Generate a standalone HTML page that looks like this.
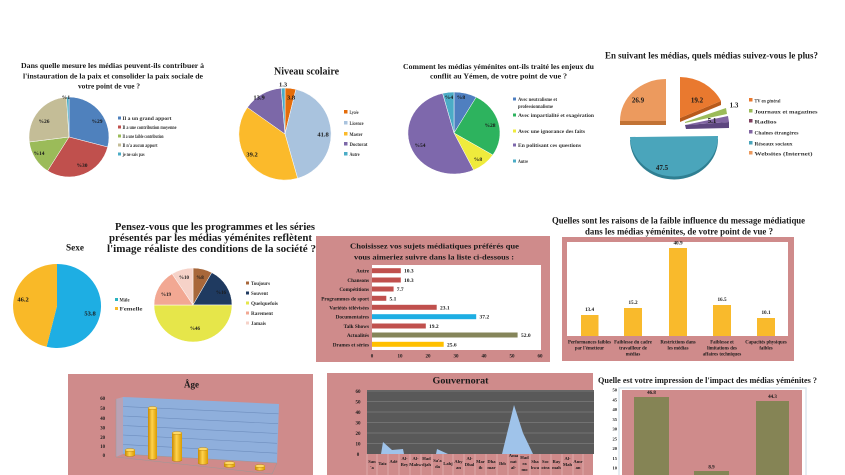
<!DOCTYPE html>
<html>
<head>
<meta charset="utf-8">
<style>
html,body{margin:0;padding:0;background:#fff;}
svg{display:block;}
text{font-family:"Liberation Serif",serif;font-weight:bold;fill:#1a1a1a;}
.lg{font-size:5.5px;fill:#333;}
</style>
</head>
<body>
<svg width="845" height="475" viewBox="0 0 845 475" xmlns="http://www.w3.org/2000/svg">
<defs>
<linearGradient id="cyl" x1="0" x2="1" y1="0" y2="0">
<stop offset="0" stop-color="#C98A00"/>
<stop offset="0.45" stop-color="#FFD34D"/>
<stop offset="1" stop-color="#D99A00"/>
</linearGradient>
</defs>
<rect width="845" height="475" fill="#fff"/>

<!-- ============ Chart 1 ============ -->
<text x="112.5" y="68" font-size="7.6" text-anchor="middle" textLength="183" lengthAdjust="spacingAndGlyphs">Dans quelle mesure les médias peuvent-ils contribuer à</text>
<text x="113" y="78.5" font-size="7.6" text-anchor="middle" textLength="180" lengthAdjust="spacingAndGlyphs">l'instauration de la paix et consolider la paix sociale de</text>
<text x="109" y="88.5" font-size="7.6" text-anchor="middle" textLength="62" lengthAdjust="spacingAndGlyphs">votre point de vue ?</text>
<g stroke="#fff" stroke-width="0.5">
<path d="M69,137 L69,97 A40,40 0 0 1 107.7,147 Z" fill="#4F81BD"/>
<path d="M69,137 L107.7,147 A40,40 0 0 1 47.6,170.8 Z" fill="#C0504D"/>
<path d="M69,137 L47.6,170.8 A40,40 0 0 1 29.3,142 Z" fill="#9BBB59"/>
<path d="M69,137 L29.3,142 A40,40 0 0 1 66.5,97.1 Z" fill="#C4BD97"/>
<path d="M69,137 L66.5,97.1 A40,40 0 0 1 69,97 Z" fill="#4BACC6"/>
</g>
<g font-size="5.5" text-anchor="middle">
<text x="97" y="123">%29</text>
<text x="82" y="167">%30</text>
<text x="39" y="155">%14</text>
<text x="44" y="123">%26</text>
<text x="66" y="99">%1</text>
</g>
<rect x="118" y="116.5" width="3" height="3" fill="#4F81BD"/>
<rect x="118" y="125.5" width="3" height="3" fill="#C0504D"/>
<rect x="118" y="134.5" width="3" height="3" fill="#9BBB59"/>
<rect x="118" y="143.5" width="3" height="3" fill="#C4BD97"/>
<rect x="118" y="152.5" width="3" height="3" fill="#4BACC6"/>
<text class="lg" x="122.5" y="120" textLength="49" lengthAdjust="spacingAndGlyphs">Il a un grand apport</text>
<text class="lg" x="122.5" y="129" textLength="54" lengthAdjust="spacingAndGlyphs">Il a une contribution moyenne</text>
<text class="lg" x="122.5" y="138" textLength="41" lengthAdjust="spacingAndGlyphs">Il a une faible contribution</text>
<text class="lg" x="122.5" y="147" textLength="35" lengthAdjust="spacingAndGlyphs">Il n'a aucun apport</text>
<text class="lg" x="122.5" y="156" textLength="22" lengthAdjust="spacingAndGlyphs">je ne sais pas</text>

<!-- ============ Chart 2 Niveau scolaire ============ -->
<text x="306.5" y="74.5" font-size="11" text-anchor="middle" textLength="65" lengthAdjust="spacingAndGlyphs">Niveau scolaire</text>
<g stroke="#fff" stroke-width="0.5">
<path d="M285,134 L285,88 A46,46 0 0 1 295.9,89.3 Z" fill="#E46C0A"/>
<path d="M285,134 L295.9,89.3 A46,46 0 0 1 297.6,178.3 Z" fill="#A9C3DE"/>
<path d="M285,134 L297.6,178.3 A46,46 0 0 1 247.4,107.4 Z" fill="#FBBA2B"/>
<path d="M285,134 L247.4,107.4 A46,46 0 0 1 281.2,88.2 Z" fill="#7C68A8"/>
<path d="M285,134 L281.2,88.2 A46,46 0 0 1 285,88 Z" fill="#4BACC6"/>
</g>
<g font-size="6.5" text-anchor="middle">
<text x="283" y="86.5">1.3</text>
<text x="291" y="99.5">3.8</text>
<text x="323" y="136.5">41.8</text>
<text x="252" y="156.5">39.2</text>
<text x="259" y="99.5">13.9</text>
</g>
<rect x="344" y="110" width="3.5" height="3.5" fill="#E46C0A"/>
<rect x="344" y="121" width="3.5" height="3.5" fill="#A9C3DE"/>
<rect x="344" y="132" width="3.5" height="3.5" fill="#FBBA2B"/>
<rect x="344" y="142" width="3.5" height="3.5" fill="#7C68A8"/>
<rect x="344" y="152" width="3.5" height="3.5" fill="#4BACC6"/>
<g class="lg" font-size="6.3">
<text class="lg" x="349.5" y="114" font-size="6.3" textLength="9" lengthAdjust="spacingAndGlyphs">Lycée</text>
<text class="lg" x="349.5" y="125" font-size="6.3" textLength="14" lengthAdjust="spacingAndGlyphs">Licence</text>
<text class="lg" x="349.5" y="136" font-size="6.3" textLength="13" lengthAdjust="spacingAndGlyphs">Master</text>
<text class="lg" x="349.5" y="146" font-size="6.3" textLength="18" lengthAdjust="spacingAndGlyphs">Doctorat</text>
<text class="lg" x="349.5" y="156" font-size="6.3" textLength="10" lengthAdjust="spacingAndGlyphs">Autre</text>
</g>

<!-- ============ Chart 3 Comment ============ -->
<text x="498.5" y="69" font-size="7.6" text-anchor="middle" textLength="191" lengthAdjust="spacingAndGlyphs">Comment les médias yéménites ont-ils traité les enjeux du</text>
<text x="498.5" y="78.5" font-size="7.6" text-anchor="middle" textLength="137" lengthAdjust="spacingAndGlyphs">conflit au Yémen, de votre point de vue ?</text>
<g stroke="#fff" stroke-width="0.5">
<path d="M454,133 L454,92 A46,41 0 0 1 476.2,97.1 Z" fill="#4F7FC0"/>
<path d="M454,133 L476.2,97.1 A46,41 0 0 1 492.8,155 Z" fill="#2DB35E"/>
<path d="M454,133 L492.8,155 A46,41 0 0 1 473.6,170.1 Z" fill="#EFEB3C"/>
<path d="M454,133 L473.6,170.1 A46,41 0 1 1 442.6,93.3 Z" fill="#7E68AC"/>
<path d="M454,133 L442.6,93.3 A46,41 0 0 1 454,92 Z" fill="#4BACC6"/>
</g>
<g font-size="5.5" text-anchor="middle">
<text x="461" y="99">%8</text>
<text x="449" y="99">%4</text>
<text x="490" y="127">%28</text>
<text x="478" y="161">%8</text>
<text x="420" y="147">%54</text>
</g>
<rect x="513" y="97.5" width="3" height="3" fill="#4F7FC0"/>
<rect x="513" y="113.5" width="3" height="3" fill="#2DB35E"/>
<rect x="513" y="129.5" width="3" height="3" fill="#EFEB3C"/>
<rect x="513" y="143.5" width="3" height="3" fill="#7E68AC"/>
<rect x="513" y="159.5" width="3" height="3" fill="#4BACC6"/>
<text class="lg" x="518" y="101" textLength="39" lengthAdjust="spacingAndGlyphs">Avec neutralisme et</text>
<text class="lg" x="518" y="108" textLength="35" lengthAdjust="spacingAndGlyphs">professionnalisme</text>
<text class="lg" x="518" y="117" textLength="76" lengthAdjust="spacingAndGlyphs">Avec impartialité et exagération</text>
<text class="lg" x="518" y="133" textLength="67" lengthAdjust="spacingAndGlyphs">Avec une ignorance des faits</text>
<text class="lg" x="518" y="147" textLength="63" lengthAdjust="spacingAndGlyphs">En politisant ces questions</text>
<text class="lg" x="518" y="163" textLength="10" lengthAdjust="spacingAndGlyphs">Autre</text>

<!-- ============ Chart 4 En suivant ============ -->
<text x="711.5" y="58.5" font-size="9.2" text-anchor="middle" textLength="213" lengthAdjust="spacingAndGlyphs">En suivant les médias, quels médias suivez-vous le plus?</text>
<!-- Websites -->
<path d="M620,121 L666,121 L666,125 L620,125 Z" fill="#C27335"/>
<path d="M666,121 L666,79 A46,42 0 0 0 620,121 Z" fill="#EC9A5E"/>
<!-- TV -->
<path d="M680,118 L721,101 L721,105 L680,122 Z" fill="#B85A1C"/>
<path d="M680,118 L680,77 A46,42 0 0 1 721,101 Z" fill="#E9792F"/>
<!-- Journaux -->
<path d="M685,122 L726,108 L727,114 L685,123 Z" fill="#9BBB59"/>
<!-- Purple -->
<path d="M685,125 L729,122 L729,128 L686,129 Z" fill="#5D467F"/>
<path d="M685,125 L728,116 L729,122 Z" fill="#8064A2"/>
<!-- Teal -->
<path d="M630,140 L718,139 A44,40 0 0 1 630,140 Z" fill="#2F7F92"/>
<path d="M630,137 L718,136 A44,40 0 0 1 630,137 Z" fill="#4AA5BB"/>
<g font-size="7" text-anchor="middle">
<text x="638" y="102.5">26.9</text>
<text x="697" y="102.5">19.2</text>
<text x="734" y="107.5">1.3</text>
<text x="712" y="123">5.1</text>
<text x="662" y="170">47.5</text>
</g>
<rect x="749" y="98" width="3.5" height="3.5" fill="#E9792F"/>
<rect x="749" y="109" width="3.5" height="3.5" fill="#9BBB59"/>
<rect x="749" y="119" width="3.5" height="3.5" fill="#7F3F5F"/>
<rect x="749" y="130" width="3.5" height="3.5" fill="#8064A2"/>
<rect x="749" y="141" width="3.5" height="3.5" fill="#4AA5BB"/>
<rect x="749" y="151" width="3.5" height="3.5" fill="#EC9A5E"/>
<text class="lg" x="754.5" y="102.3" font-size="6.4" textLength="26" lengthAdjust="spacingAndGlyphs">TV en général</text>
<text class="lg" x="754.5" y="113.3" font-size="6.4" textLength="63" lengthAdjust="spacingAndGlyphs">Journaux et magazines</text>
<text class="lg" x="754.5" y="123.3" font-size="6.4" textLength="22" lengthAdjust="spacingAndGlyphs">Radios</text>
<text class="lg" x="754.5" y="134.3" font-size="6.4" textLength="44" lengthAdjust="spacingAndGlyphs">Chaînes étrangères</text>
<text class="lg" x="754.5" y="145.3" font-size="6.4" textLength="38" lengthAdjust="spacingAndGlyphs">Réseaux sociaux</text>
<text class="lg" x="754.5" y="155.3" font-size="6.4" textLength="58" lengthAdjust="spacingAndGlyphs">Websites (Internet)</text>

<!-- ============ Chart 5 Sexe ============ -->
<text x="75" y="250.5" font-size="9.5" text-anchor="middle" textLength="18" lengthAdjust="spacingAndGlyphs">Sexe</text>
<path d="M57,306 L57,264 A44,42 0 1 1 46.6,346.8 Z" fill="#1EAEE3"/>
<path d="M57,306 L46.6,346.8 A44,42 0 0 1 57,264 Z" fill="#F9B928"/>
<text x="90" y="315.5" font-size="6.5" text-anchor="middle">53.8</text>
<text x="23" y="301.5" font-size="6.5" text-anchor="middle">46.2</text>
<rect x="115" y="298" width="3" height="3" fill="#2BB3C0"/>
<rect x="115" y="307" width="3" height="3" fill="#F9B928"/>
<text class="lg" x="119.5" y="301.5" font-size="6" textLength="10" lengthAdjust="spacingAndGlyphs">Mâle</text>
<text class="lg" x="119.5" y="310.5" font-size="6" textLength="23" lengthAdjust="spacingAndGlyphs">Femelle</text>

<!-- ============ Chart 6 Pensez-vous ============ -->
<text x="215" y="230" font-size="11" text-anchor="middle" textLength="200" lengthAdjust="spacingAndGlyphs">Pensez-vous que les programmes et les séries</text>
<text x="210.5" y="241" font-size="11" text-anchor="middle" textLength="203" lengthAdjust="spacingAndGlyphs">présentés par les médias yéménites reflètent</text>
<text x="211.5" y="252" font-size="11" text-anchor="middle" textLength="209" lengthAdjust="spacingAndGlyphs">l'image réaliste des conditions de la société ?</text>
<g stroke="#fff" stroke-width="0.5">
<path d="M193,305 L193,268 A39,37 0 0 1 211.8,272.6 Z" fill="#A8673A"/>
<path d="M193,305 L211.8,272.6 A39,37 0 0 1 232,305 Z" fill="#1F3A60"/>
<path d="M193,305 L232,305 A39,37 0 0 1 154,305 Z" fill="#E6E64A"/>
<path d="M193,305 L154,305 A39,37 0 0 1 172.1,273.8 Z" fill="#F2A893"/>
<path d="M193,305 L172.1,273.8 A39,37 0 0 1 193,268 Z" fill="#F6D2C8"/>
</g>
<g font-size="5" text-anchor="middle">
<text x="200" y="279">%8</text>
<text x="221" y="294" fill="#ddd">%16</text>
<text x="195" y="330">%46</text>
<text x="166" y="296">%19</text>
<text x="184" y="279">%10</text>
</g>
<rect x="246" y="281.5" width="3" height="3" fill="#A8673A"/>
<rect x="246" y="291.5" width="3" height="3" fill="#1F3A60"/>
<rect x="246" y="301.5" width="3" height="3" fill="#E6E64A"/>
<rect x="246" y="311.5" width="3" height="3" fill="#F2A893"/>
<rect x="246" y="321.5" width="3" height="3" fill="#F6D2C8"/>
<text class="lg" x="251" y="285" font-size="5" textLength="19" lengthAdjust="spacingAndGlyphs">Toujours</text>
<text class="lg" x="251" y="295" font-size="5" textLength="17" lengthAdjust="spacingAndGlyphs">Souvent</text>
<text class="lg" x="251" y="305" font-size="5" textLength="27" lengthAdjust="spacingAndGlyphs">Quelquefois</text>
<text class="lg" x="251" y="315" font-size="5" textLength="22" lengthAdjust="spacingAndGlyphs">Rarement</text>
<text class="lg" x="251" y="325" font-size="5" textLength="15" lengthAdjust="spacingAndGlyphs">Jamais</text>

<!-- ============ Chart 7 Choisissez ============ -->
<rect x="316" y="236" width="234" height="126" fill="#CF8B8B"/>
<rect x="372" y="265" width="169" height="85" fill="#fff"/>
<text x="434.5" y="248.5" font-size="7.8" text-anchor="middle" textLength="169" lengthAdjust="spacingAndGlyphs">Choisissez vos sujets médiatiques préférés que</text>
<text x="434" y="259.5" font-size="7.8" text-anchor="middle" textLength="160" lengthAdjust="spacingAndGlyphs">vous aimeriez suivre dans la liste ci-dessous :</text>
<g fill="#C0504D">
<rect x="372" y="268.2" width="28.8" height="5"/>
<rect x="372" y="277.5" width="28.8" height="5"/>
<rect x="372" y="286.5" width="21.6" height="5"/>
<rect x="372" y="295.8" width="14.3" height="5"/>
<rect x="372" y="304.8" width="64.7" height="5"/>
<rect x="372" y="323.5" width="53.8" height="5"/>
</g>
<rect x="372" y="314.2" width="104.2" height="5" fill="#1EAEE3"/>
<rect x="372" y="332.5" width="145.6" height="5" fill="#85855A"/>
<rect x="372" y="341.8" width="71.7" height="5" fill="#FFC000"/>
<g font-size="5.5">
<text x="404" y="272.7">10.3</text>
<text x="404" y="282">10.3</text>
<text x="396.8" y="291">7.7</text>
<text x="389.5" y="300.3">5.1</text>
<text x="440" y="309.3">23.1</text>
<text x="479.5" y="318.7">37.2</text>
<text x="429" y="328">19.2</text>
<text x="521" y="337">52.0</text>
<text x="447" y="346.3">25.6</text>
</g>
<g font-size="5.2" text-anchor="end" fill="#2a1010">
<text x="369" y="272.7">Autre</text>
<text x="369" y="282">Chansons</text>
<text x="369" y="291">Compétitions</text>
<text x="369" y="300.3">Programmes de sport</text>
<text x="369" y="309.3">Variétés télévisées</text>
<text x="369" y="318.7">Documentaires</text>
<text x="369" y="328">Talk Shows</text>
<text x="369" y="337">Actualités</text>
<text x="369" y="346.3">Drames et séries</text>
</g>
<g font-size="5" text-anchor="middle">
<text x="372" y="357.5">0</text>
<text x="400" y="357.5">10</text>
<text x="428" y="357.5">20</text>
<text x="456" y="357.5">30</text>
<text x="484" y="357.5">40</text>
<text x="512" y="357.5">50</text>
<text x="540" y="357.5">60</text>
</g>

<!-- ============ Chart 8 Quelles sont ============ -->
<text x="678.5" y="223.5" font-size="9" text-anchor="middle" textLength="253" lengthAdjust="spacingAndGlyphs">Quelles sont les raisons de la faible influence du message médiatique</text>
<text x="679" y="234.5" font-size="9" text-anchor="middle" textLength="188" lengthAdjust="spacingAndGlyphs">dans les médias yéménites, de votre point de vue ?</text>
<rect x="562" y="237" width="232" height="124" fill="#CF8B8B"/>
<rect x="567" y="242" width="221" height="94" fill="#fff"/>
<g fill="#F9BA2C">
<rect x="581" y="315" width="17.5" height="21"/>
<rect x="624" y="308" width="18" height="28"/>
<rect x="669" y="248" width="18" height="88"/>
<rect x="713" y="305" width="18" height="31"/>
<rect x="757" y="318" width="18" height="18"/>
</g>
<g font-size="5.2" text-anchor="middle" fill="#1F2A44">
<text x="589.5" y="311" fill="#1F2A44">13.4</text>
<text x="633" y="304" fill="#1F2A44">15.2</text>
<text x="678" y="244.5" fill="#1F2A44">40.9</text>
<text x="722" y="301" fill="#1F2A44">16.5</text>
<text x="766" y="314" fill="#1F2A44">10.1</text>
</g>
<g font-size="4.8" text-anchor="middle" fill="#2a0f0f">
<text x="589.5" y="343.5">Performances faibles</text>
<text x="589.5" y="349.5">par l'émetteur</text>
<text x="633" y="343.5">Faiblesse du cadre</text>
<text x="633" y="349.5">travailleur de</text>
<text x="633" y="355.5">médias</text>
<text x="678" y="343.5">Restrictions dans</text>
<text x="678" y="349.5">les médias</text>
<text x="722" y="343.5">Faiblesse et</text>
<text x="722" y="349.5">limitations des</text>
<text x="722" y="355.5">affaires techniques</text>
<text x="766" y="343.5">Capacités physiques</text>
<text x="766" y="349.5">faibles</text>
</g>

<!-- ============ Chart 9 Age ============ -->
<rect x="68" y="374" width="245" height="101" fill="#CF8B8B"/>
<text x="191.5" y="387.5" font-size="9" text-anchor="middle">Âge</text>
<polygon points="123,397 279,404 277,463 123,454" fill="#8FAFDC"/>
<polygon points="116,399 123,397 123,454 116,457" fill="#B9A2B4"/>
<g stroke="#6E8EBE" stroke-width="0.6">
<line x1="123" y1="444.5" x2="277" y2="453.2"/>
<line x1="123" y1="435" x2="277" y2="443.3"/>
<line x1="123" y1="425.5" x2="277.5" y2="433.5"/>
<line x1="123" y1="416" x2="278" y2="423.7"/>
<line x1="123" y1="406.5" x2="278.5" y2="413.8"/>
</g>
<g stroke="#999" stroke-width="0.5" fill="none">
<line x1="116" y1="399" x2="116" y2="457"/>
<line x1="116" y1="457" x2="272" y2="474"/>
<line x1="123" y1="454" x2="277" y2="463"/>
<line x1="277" y1="463" x2="272" y2="474"/>
</g>
<g font-size="4.8" text-anchor="end">
<text x="105" y="400">60</text>
<text x="105" y="410">50</text>
<text x="105" y="420">40</text>
<text x="105" y="429.5">30</text>
<text x="105" y="439">20</text>
<text x="105" y="448">10</text>
<text x="105" y="457">0</text>
</g>
<g stroke="#B07800" stroke-width="0.4">
<ellipse cx="130" cy="455" rx="5" ry="1.5" fill="url(#cyl)"/>
<rect x="125" y="450" width="10" height="5" fill="url(#cyl)" stroke="none"/>
<ellipse cx="130" cy="450" rx="5" ry="1.5" fill="#FFD966"/>
<ellipse cx="152.5" cy="458" rx="4.5" ry="1.5" fill="url(#cyl)"/>
<rect x="148" y="408" width="9" height="50" fill="url(#cyl)" stroke="none"/>
<ellipse cx="152.5" cy="408" rx="4.5" ry="1.5" fill="#FFD966"/>
<ellipse cx="177" cy="460" rx="5" ry="1.5" fill="url(#cyl)"/>
<rect x="172" y="433" width="10" height="27" fill="url(#cyl)" stroke="none"/>
<ellipse cx="177" cy="433" rx="5" ry="1.5" fill="#FFD966"/>
<ellipse cx="203" cy="463" rx="5" ry="1.5" fill="url(#cyl)"/>
<rect x="198" y="449" width="10" height="14" fill="url(#cyl)" stroke="none"/>
<ellipse cx="203" cy="449" rx="5" ry="1.5" fill="#FFD966"/>
<ellipse cx="229.5" cy="466" rx="5.5" ry="1.5" fill="url(#cyl)"/>
<rect x="224" y="463" width="11" height="3" fill="url(#cyl)" stroke="none"/>
<ellipse cx="229.5" cy="463" rx="5.5" ry="1.5" fill="#FFD966"/>
<ellipse cx="260" cy="469" rx="5" ry="1.5" fill="url(#cyl)"/>
<rect x="255" y="466" width="10" height="3" fill="url(#cyl)" stroke="none"/>
<ellipse cx="260" cy="466" rx="5" ry="1.5" fill="#FFD966"/>
</g>

<!-- ============ Chart 10 Gouvernorat ============ -->
<rect x="327" y="373" width="266" height="102" fill="#CF8B8B"/>
<text x="460.5" y="383.5" font-size="9.5" text-anchor="middle" textLength="56" lengthAdjust="spacingAndGlyphs">Gouvernorat</text>
<rect x="367" y="390" width="227" height="64" fill="#595959"/>
<g stroke="#8C8C8C" stroke-width="0.6">
<line x1="367" y1="391" x2="594" y2="391"/>
<line x1="367" y1="401.5" x2="594" y2="401.5"/>
<line x1="367" y1="412" x2="594" y2="412"/>
<line x1="367" y1="422.5" x2="594" y2="422.5"/>
<line x1="367" y1="433" x2="594" y2="433"/>
<line x1="367" y1="443.5" x2="594" y2="443.5"/>
</g>
<g fill="#9FC3EA">
<path d="M381,454 L383,442 L392,450 L403,449 L404,454 Z"/>
<path d="M436,454 L437,449 L448,454 Z"/>
<path d="M502,454 L514,405 L523,433 L533,454 Z"/>
</g>
<g font-size="5" text-anchor="middle">
<text x="358" y="393">60</text>
<text x="358" y="403.5">50</text>
<text x="358" y="414">40</text>
<text x="358" y="424.5">30</text>
<text x="358" y="435">20</text>
<text x="358" y="445.5">10</text>
<text x="358" y="456">0</text>
</g>
<g stroke="#E8BDBD" stroke-width="0.6">
<line x1="367" y1="454" x2="367" y2="475"/><line x1="377" y1="454" x2="377" y2="475"/>
<line x1="388" y1="454" x2="388" y2="475"/><line x1="399" y1="454" x2="399" y2="475"/>
<line x1="410" y1="454" x2="410" y2="475"/><line x1="421" y1="454" x2="421" y2="475"/>
<line x1="432" y1="454" x2="432" y2="475"/><line x1="443" y1="454" x2="443" y2="475"/>
<line x1="453" y1="454" x2="453" y2="475"/><line x1="464" y1="454" x2="464" y2="475"/>
<line x1="475" y1="454" x2="475" y2="475"/><line x1="486" y1="454" x2="486" y2="475"/>
<line x1="497" y1="454" x2="497" y2="475"/><line x1="508" y1="454" x2="508" y2="475"/>
<line x1="519" y1="454" x2="519" y2="475"/><line x1="530" y1="454" x2="530" y2="475"/>
<line x1="540" y1="454" x2="540" y2="475"/><line x1="551" y1="454" x2="551" y2="475"/>
<line x1="562" y1="454" x2="562" y2="475"/><line x1="573" y1="454" x2="573" y2="475"/>
<line x1="583" y1="454" x2="583" y2="475"/>
</g>
<g font-size="4.6" text-anchor="middle">
<text x="372" y="463">San</text><text x="372" y="469">'a</text>
<text x="382.5" y="465">Taiz</text>
<text x="393.5" y="463">Adé</text>
<text x="404.5" y="460">Al-</text><text x="404.5" y="466">Bey</text>
<text x="415.5" y="460">Al-</text><text x="415.5" y="466">Mahw</text>
<text x="426.5" y="460">Had</text><text x="426.5" y="466">djah</text>
<text x="437.5" y="462">Sa'a</text><text x="437.5" y="468">da</text>
<text x="448" y="465">Lahj</text>
<text x="458.5" y="463">Aby</text><text x="458.5" y="469">an</text>
<text x="469.5" y="460">Al-</text><text x="469.5" y="466">Dhal</text>
<text x="480.5" y="463">Mar</text><text x="480.5" y="469">ib</text>
<text x="491.5" y="463">Dha</text><text x="491.5" y="469">mar</text>
<text x="502.5" y="465">Ibb</text>
<text x="513.5" y="457">Ama</text><text x="513.5" y="463">nat</text><text x="513.5" y="469">al-</text>
<text x="524.5" y="459">Had</text><text x="524.5" y="465">ra</text><text x="524.5" y="471">mo</text>
<text x="535" y="463">Sha</text><text x="535" y="469">bwa</text>
<text x="545.5" y="463">Soc</text><text x="545.5" y="469">otra</text>
<text x="556.5" y="463">Ray</text><text x="556.5" y="469">mah</text>
<text x="567.5" y="460">Al-</text><text x="567.5" y="466">Mah</text>
<text x="578" y="463">Amr</text><text x="578" y="469">an</text>
</g>

<!-- ============ Chart 11 Impression ============ -->
<text x="707.5" y="383" font-size="8" text-anchor="middle" textLength="219" lengthAdjust="spacingAndGlyphs">Quelle est votre impression de l'impact des médias yéménites ?</text>
<rect x="619" y="388" width="187" height="90" fill="#fff" stroke="#DCE6EE" stroke-width="1.5"/>
<rect x="622" y="390" width="180" height="85" fill="#CF8B8B"/>
<g fill="#858455">
<rect x="634" y="397" width="35" height="78"/>
<rect x="694" y="471" width="35" height="4"/>
<rect x="756" y="401" width="33" height="74"/>
</g>
<g font-size="5" text-anchor="middle">
<text x="651.5" y="394">46.8</text>
<text x="711.5" y="468.5">8.9</text>
<text x="772.5" y="398">44.3</text>
</g>
<g font-size="4.5" text-anchor="end">
<text x="617" y="391.5">50</text>
<text x="617" y="401.3">45</text>
<text x="617" y="411">40</text>
<text x="617" y="420.8">35</text>
<text x="617" y="430.5">30</text>
<text x="617" y="440.3">25</text>
<text x="617" y="450">20</text>
<text x="617" y="459.8">15</text>
<text x="617" y="469.5">10</text>
</g>
</svg>
</body>
</html>
